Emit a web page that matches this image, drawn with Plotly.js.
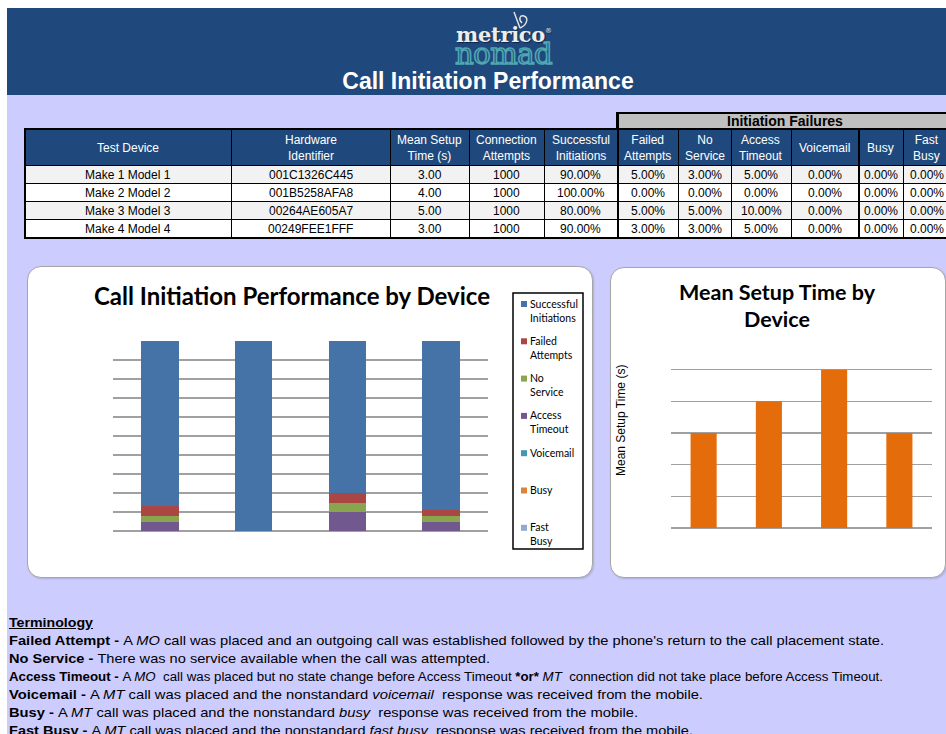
<!DOCTYPE html>
<html>
<head>
<meta charset="utf-8">
<script src="https://cdn.plot.ly/plotly-3.0.1.min.js"></script>
<style>
html,body{margin:0;padding:0;width:946px;height:734px;overflow:hidden;background:#fff;font-family:Arial,"Liberation Sans",sans-serif;}
.abs{position:absolute;}
#band{left:7px;top:8px;width:939px;height:87px;background:#1F497D;}
#lav{left:7px;top:95px;width:939px;height:639px;background:#CCCCFF;}
#logo1{left:456px;top:21px;font-family:"DejaVu Serif",serif;font-weight:bold;font-size:21px;line-height:28px;color:#EDEDED;letter-spacing:-0.3px;text-shadow:1px 1px 1px #0d2340;white-space:nowrap;}
#logo1 sup{font-size:7px;font-weight:normal;vertical-align:top;position:relative;top:-4px;}
#logo2{left:455px;top:34px;font-family:"DejaVu Serif",serif;font-size:29px;line-height:40px;color:#1F497D;-webkit-text-stroke:1.6px #4FA7B1;white-space:nowrap;letter-spacing:-0.5px;}
#pageTitle{left:0;width:976px;top:70px;text-align:center;font-weight:bold;font-size:23px;line-height:23px;color:#fff;white-space:nowrap;}
.box{background:#fff;border:1px solid #A6A6A6;border-radius:14px;box-sizing:border-box;box-shadow:1px 1px 2px rgba(0,0,0,0.15);}
#boxL{left:27px;top:266px;width:566px;height:312px;}
#boxR{left:610px;top:267px;width:336px;height:311px;}
#tbl{left:25px;top:112px;width:925px;height:127px;}
#chartL{left:27px;top:266px;width:566px;height:312px;}
#chartR{left:610px;top:267px;width:335px;height:310px;}
.ov{pointer-events:none;z-index:5;}
#tblBorder{left:24px;top:128px;width:940px;height:111px;border:2px solid #000;box-sizing:border-box;}
.vthick{width:2px;background:#000;}
.term{left:9px;height:18px;line-height:18px;font-size:13px;white-space:nowrap;transform-origin:0 50%;color:#000;}
</style>
</head>
<body>
<div id="band" class="abs"></div>
<div id="lav" class="abs"></div>
<svg class="abs" style="left:505px;top:9px" width="30" height="24"><path d="M9,3 L15,19 M15,19 C22,16 24,9 19,7 C15,6 13,10 17,14" fill="none" stroke="#E6E6E6" stroke-width="1.4"/></svg>
<div id="logo1" class="abs">metrico<sup>®</sup></div>
<div id="logo2" class="abs">nomad</div>
<div id="pageTitle" class="abs">Call Initiation Performance</div>

<div id="boxL" class="abs box"></div>
<div id="boxR" class="abs box"></div>

<div id="tbl" class="abs"></div>
<div id="tblBorder" class="abs ov"></div>
<div class="abs ov vthick" style="left:617px;top:112px;height:127px;"></div>
<div class="abs ov vthick" style="left:858px;top:129px;height:110px;"></div>

<div id="chartL" class="abs"></div>
<div id="chartR" class="abs"></div>

<div id="terms"></div>

<script>
// ---------------- DATA ----------------
var devices = ['Make 1 Model 1', 'Make 2 Model 2', 'Make 3 Model 3', 'Make 4 Model 4'];
var hardwareIds = ['001C1326C445', '001B5258AFA8', '00264AE605A7', '00249FEE1FFF'];
var meanSetupTime = [3.00, 4.00, 5.00, 3.00];
var connectionAttempts = [1000, 1000, 1000, 1000];
var successfulInitiations = [90, 100, 80, 90];
var failedAttempts = [5, 0, 5, 3];
var noService = [3, 0, 5, 3];
var accessTimeout = [5, 0, 10, 5];
var voicemail = [0, 0, 0, 0];
var busy = [0, 0, 0, 0];
var fastBusy = [0, 0, 0, 0];

var tableHeaders = ['Test Device', 'Hardware<br>Identifier', 'Mean Setup<br>Time (s)', 'Connection<br>Attempts',
  'Successful<br>Initiations', 'Failed<br>Attempts', 'No<br>Service', 'Access<br>Timeout', 'Voicemail', 'Busy', 'Fast<br>Busy'];
var groupHeader = 'Initiation Failures';

var seriesNames = ['Successful Initiations', 'Failed Attempts', 'No Service', 'Access Timeout', 'Voicemail', 'Busy', 'Fast Busy'];
var legendLabels = ['Successful<br>Initiations', 'Failed<br>Attempts', 'No<br>Service', 'Access<br>Timeout', 'Voicemail', 'Busy', 'Fast<br>Busy'];
var seriesColors = ['#4572A7', '#AA4643', '#89A54E', '#71588F', '#4198AF', '#DB843D', '#93A9CF'];
var seriesValues = [successfulInitiations, failedAttempts, noService, accessTimeout, voicemail, busy, fastBusy];
// stacking order bottom -> top (indices into the series lists)
var stackOrder = [3, 2, 1, 4, 5, 6, 0];

var chartTitleL = 'Call Initiation Performance by Device';
var chartTitleR = 'Mean Setup Time by<br>Device';
var yTitleR = 'Mean Setup Time (s)';

var termHeading = 'Terminology';
var termNames = ['Failed Attempt', 'No Service', 'Access Timeout', 'Voicemail', 'Busy', 'Fast Busy'];
var termTexts = [
  'A <i>MO</i> call was placed and an outgoing call was established followed by the phone\'s return to the call placement state.',
  'There was no service available when the call was attempted.',
  'A <i>MO</i>&nbsp; call was placed but no state change before Access Timeout <b>*or*</b> <i>MT</i>&nbsp; connection did not take place before Access Timeout.',
  'A <i>MT</i> call was placed and the nonstandard <i>voicemail</i>&nbsp; response was received from the mobile.',
  'A <i>MT</i> call was placed and the nonstandard <i>busy</i>&nbsp; response was received from the mobile.',
  'A <i>MT</i> call was placed and the nonstandard <i>fast busy</i>&nbsp; response was received from the mobile.'
];

// ---------------- TABLE ----------------
var FONT = 'Arial, "Liberation Sans", sans-serif';
var pct = function (a) { return a.map(function (v) { return v.toFixed(2) + '%'; }); };
var cellValues = [
  devices, hardwareIds, meanSetupTime.map(function (v) { return v.toFixed(2); }),
  connectionAttempts.map(String), pct(successfulInitiations), pct(failedAttempts), pct(noService),
  pct(accessTimeout), pct(voicemail), pct(busy), pct(fastBusy)
];
var rowFill = devices.map(function (d, i) { return i % 2 === 0 ? '#F2F2F2' : '#FFFFFF'; });
var fillCols = cellValues.map(function () { return rowFill; });
var blankCols = cellValues.map(function (col) { return col.map(function () { return '\u00a0'; }); });
var colW = [206, 159, 79, 75, 73, 61, 53, 60, 67, 45, 47];
var TW = 925, TH = 127, groupH = 17, headH = 36, rowH = 18.2;
var colLeft = [];
colW.reduce(function (acc, w) { colLeft.push(acc); return acc + w; }, 0);
var groupStart = colLeft[5];

// header and cell texts, centred in each cell of the table grid
var tblAnn = tableHeaders.map(function (h, i) {
  return {
    xref: 'paper', yref: 'paper',
    x: (colLeft[i] + colW[i] / 2) / TW, y: 1 - (groupH + headH / 2 + 1) / TH,
    xanchor: 'center', yanchor: 'middle', align: 'center', showarrow: false,
    text: h, font: { family: FONT, size: 12, color: '#FFFFFF' }
  };
});
cellValues.forEach(function (col, c) {
  col.forEach(function (v, r) {
    tblAnn.push({
      xref: 'paper', yref: 'paper',
      x: (colLeft[c] + colW[c] / 2) / TW, y: 1 - (groupH + headH + rowH * r + rowH / 2 + 0.5) / TH,
      xanchor: 'center', yanchor: 'middle', showarrow: false,
      text: v, font: { family: FONT, size: 12, color: '#000000' }
    });
  });
});
tblAnn.push({
  xref: 'paper', yref: 'paper', x: (groupStart + 168) / TW, y: 1 - (groupH / 2 + 0.5) / TH,
  xanchor: 'center', yanchor: 'middle', showarrow: false,
  text: '<b>' + groupHeader + '</b>', font: { family: FONT, size: 14, color: '#000' }
});

Plotly.newPlot('tbl', [{
  type: 'table',
  columnwidth: colW,
  domain: { x: [0, 1], y: [0, 1 - groupH / TH] },
  header: {
    values: tableHeaders.map(function () { return ['\u00a0']; }),
    align: 'center', height: headH,
    fill: { color: '#1F497D' },
    line: { color: '#000000', width: 1 },
    font: { family: FONT, size: 12, color: '#FFFFFF' }
  },
  cells: {
    values: blankCols,
    align: 'center', height: rowH,
    fill: { color: fillCols },
    line: { color: '#000000', width: 1 },
    font: { family: FONT, size: 12, color: '#000000' }
  }
}], {
  width: TW, height: TH,
  margin: { l: 0, r: 0, t: 0, b: 0 },
  paper_bgcolor: 'rgba(0,0,0,0)',
  shapes: [{
    type: 'rect', xref: 'paper', yref: 'paper',
    x0: groupStart / TW, x1: 1.02, y0: 1 - groupH / TH, y1: 1 - 1 / TH,
    fillcolor: '#C0C0C0', line: { color: '#000', width: 2 }
  }],
  annotations: tblAnn
}, { staticPlot: true, displayModeBar: false });

// ---------------- LEFT CHART (stacked) ----------------
var WL = 566, HL = 312, mL = { l: 86, r: 105, t: 75, b: 47 };
var pwL = WL - mL.l - mL.r, phL = HL - mL.t - mL.b;
function pxL(xd) { return (xd - mL.l) / pwL; }
function pyL(yd) { return (HL - mL.b - yd) / phL; }

var tracesL = stackOrder.map(function (k) {
  return {
    type: 'bar', name: seriesNames[k], x: devices, y: seriesValues[k],
    marker: { color: seriesColors[k], line: { width: 0 } },
    showlegend: false, hoverinfo: 'skip'
  };
});

var legShapes = [{
  type: 'rect', xref: 'paper', yref: 'paper',
  x0: pxL(486), x1: pxL(556), y0: pyL(283), y1: pyL(27),
  fillcolor: '#FFFFFF', line: { color: '#000', width: 1.5 }
}];
var legAnn = [];
seriesNames.forEach(function (n, i) {
  var cy = 38 + 37.3 * i;
  legShapes.push({
    type: 'rect', xref: 'paper', yref: 'paper',
    x0: pxL(494), x1: pxL(500), y0: pyL(cy + 3), y1: pyL(cy - 3),
    fillcolor: seriesColors[i], line: { width: 0 }
  });
  legAnn.push({
    xref: 'paper', yref: 'paper', x: pxL(501), y: pyL(cy - 8.5),
    xanchor: 'left', yanchor: 'top', align: 'left', showarrow: false,
    text: legendLabels[i], font: { family: 'Lato, "Open Sans", sans-serif', size: 10.5, color: '#000' }
  });
});

Plotly.newPlot('chartL', tracesL, {
  width: WL, height: HL, margin: mL,
  paper_bgcolor: 'rgba(0,0,0,0)', plot_bgcolor: 'rgba(0,0,0,0)',
  barmode: 'stack', bargap: 0.6, showlegend: false,
  title: {
    text: '<b>' + chartTitleL + '</b>', xref: 'container', yref: 'container',
    x: (292 - 27) / WL, xanchor: 'center', y: 1 - (297 - 266) / HL, yanchor: 'middle',
    font: { family: 'Lato, "Open Sans", sans-serif', size: 24, color: '#000' }
  },
  xaxis: { type: 'category', showticklabels: false, showgrid: false, zeroline: false, showline: false, ticks: '' },
  yaxis: {
    range: [0, 100], dtick: 10, showticklabels: false, ticks: '',
    gridcolor: '#A0A0A0', gridwidth: 1.5, zeroline: true, zerolinecolor: '#A0A0A0', zerolinewidth: 1.5, showline: false
  },
  shapes: legShapes, annotations: legAnn
}, { staticPlot: true, displayModeBar: false });

// ---------------- RIGHT CHART ----------------
var WR = 335, HR = 310, mR = { l: 61, r: 13, t: 71, b: 49 };
var pwR = WR - mR.l - mR.r, phR = HR - mR.t - mR.b;
Plotly.newPlot('chartR', [{
  type: 'bar', x: devices, y: meanSetupTime, name: yTitleR,
  marker: { color: '#E46C0A', line: { width: 0 } }, hoverinfo: 'skip'
}], {
  width: WR, height: HR, margin: mR,
  paper_bgcolor: 'rgba(0,0,0,0)', plot_bgcolor: 'rgba(0,0,0,0)',
  bargap: 0.6, showlegend: false,
  title: {
    text: '<b>' + chartTitleR + '</b>', xref: 'container', yref: 'container',
    x: (777 - 610) / WR, xanchor: 'center', y: 1 - (299.5 - 267) / HR, yanchor: 'middle',
    font: { family: 'Lato, "Open Sans", sans-serif', size: 21.5, color: '#000' }
  },
  xaxis: { type: 'category', showticklabels: false, showgrid: false, zeroline: false, showline: false, ticks: '' },
  yaxis: {
    range: [0, 6], dtick: 1, showticklabels: false, ticks: '', automargin: false,
    gridcolor: '#A0A0A0', gridwidth: 1.5, zeroline: true, zerolinecolor: '#A0A0A0', zerolinewidth: 1.5, showline: false
  },
  annotations: [{
    xref: 'paper', yref: 'paper', x: (621 - 610 - mR.l) / pwR, y: (HR - mR.b - (421 - 267)) / phR,
    xanchor: 'center', yanchor: 'middle', textangle: -90, showarrow: false,
    text: yTitleR, font: { family: FONT, size: 12, color: '#000' }
  }]
}, { staticPlot: true, displayModeBar: false });

// ---------------- TERMINOLOGY ----------------
var termsDiv = document.getElementById('terms');
var lines = ['<b><u>' + termHeading + '</u></b>'];
termNames.forEach(function (n, i) { lines.push('<b>' + n + ' - </b>' + termTexts[i]); });
var targetRight = [93, 884, 490, 883, 703, 638, 693];
var fsz = [13, 13, 13, 12, 13, 13, 13];
lines.forEach(function (h, i) {
  var d = document.createElement('div');
  d.className = 'abs term';
  d.style.top = (623 + 18 * i - 9) + 'px';
  d.style.fontSize = fsz[i] + 'px';
  d.innerHTML = '<span style="display:inline-block">' + h + '</span>';
  termsDiv.appendChild(d);
  var w = d.firstChild.getBoundingClientRect().width;
  var s = (targetRight[i] - 9) / w;
  d.style.transform = 'scaleX(' + s.toFixed(4) + ')';
});
</script>
</body>
</html>
